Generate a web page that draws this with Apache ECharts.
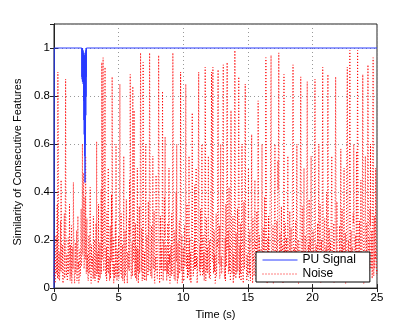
<!DOCTYPE html>
<html>
<head>
<meta charset="utf-8">
<script src="https://cdn.jsdelivr.net/npm/echarts@6/dist/echarts.min.js"></script>
<style>
  html, body { margin: 0; padding: 0; background: #fff; }
  #chart { width: 415px; height: 325px; }
</style>
</head>
<body>
<div id="chart"></div>
<script>
// y ticks shown with labels
const yTicks = [0, 0.2, 0.4, 0.6, 0.8, 1];

// PU signal (time in s, similarity)
const puTime = [0, 0.02, 2.15, 2.16, 2.17, 2.18, 2.19, 2.2, 2.21, 2.22, 2.23, 2.24, 2.25, 2.26, 2.27, 2.28,
  2.29, 2.3, 2.31, 2.32, 2.33, 2.34, 2.35, 2.36, 2.37, 2.38, 2.39, 2.4, 2.41, 2.42, 2.43, 2.44,
  2.45, 2.46, 2.47, 2.48, 2.49, 2.5, 2.51, 2.6, 25];
const puValue = [0, 1, 1, 0.88, 1, 0.87, 0.99, 0.86, 1, 0.87, 0.98, 0.86, 0.99, 0.85, 0.97, 0.86,
  0.96, 0.78, 0.98, 0.7, 0.95, 0.64, 0.97, 0.62, 0.93, 0.55, 0.96, 0.44, 0.92, 0.6, 0.98, 0.66,
  0.95, 0.72, 0.99, 0.8, 1, 0.88, 1, 1, 1];

// noise, one sample every 0.025 s from 0 to 25 s (one row = one second)
const noiseStep = 0.025;
const noiseValue = [
  0.05,0.09,0.12,0.02,0.03,0.14,0.22,0.06,0.08,0.19,0.35,0.04,0.90,0.62,0.04,0.10,0.15,0.03,0.06,0.16,0.28,0.07,0.45,0.21,0.07,0.12,0.18,0.05,0.02,0.08,0.11,0.24,0.31,0.04,0.09,0.40,0.87,0.13,0.05,0.07,
  0.14,0.03,0.04,0.11,0.21,0.06,0.08,0.15,0.35,0.09,0.03,0.18,0.12,0.05,0.26,0.02,0.06,0.13,0.17,0.08,0.44,0.20,0.09,0.04,0.02,0.10,0.19,0.06,0.07,0.14,0.24,0.03,0.05,0.17,0.30,0.08,0.11,0.02,0.04,0.12,
  0.16,0.05,0.07,0.20,0.33,0.09,0.12,0.27,0.60,0.14,0.25,0.36,0.48,0.08,0.10,0.31,0.38,0.12,0.55,0.18,0.06,0.24,0.29,0.07,0.14,0.04,0.03,0.15,0.22,0.06,0.09,0.19,0.42,0.11,0.05,0.02,0.18,0.09,0.08,0.13,
  0.13,0.04,0.30,0.08,0.04,0.16,0.20,0.03,0.09,0.12,0.27,0.05,0.61,0.22,0.06,0.10,0.15,0.02,0.35,0.07,0.03,0.14,0.19,0.04,0.08,0.18,0.41,0.06,0.94,0.55,0.12,0.70,0.96,0.30,0.07,0.11,0.23,0.48,0.92,0.15,
  0.05,0.10,0.17,0.03,0.32,0.07,0.08,0.19,0.50,0.06,0.11,0.13,0.03,0.09,0.26,0.04,0.14,0.21,0.39,0.11,0.88,0.37,0.06,0.15,0.21,0.02,0.10,0.08,0.04,0.17,0.28,0.05,0.60,0.12,0.09,0.03,0.16,0.07,0.05,0.14,
  0.22,0.04,0.07,0.33,0.85,0.28,0.13,0.06,0.31,0.10,0.04,0.15,0.18,0.03,0.09,0.20,0.55,0.08,0.02,0.13,0.24,0.05,0.12,0.18,0.37,0.09,0.06,0.02,0.15,0.11,0.08,0.16,0.29,0.07,0.45,0.22,0.89,0.52,0.10,0.04,
  0.06,0.13,0.19,0.05,0.84,0.40,0.11,0.36,0.74,0.20,0.05,0.09,0.27,0.04,0.13,0.17,0.03,0.11,0.50,0.07,0.16,0.02,0.08,0.14,0.34,0.06,0.21,0.45,0.98,0.60,0.07,0.12,0.25,0.03,0.12,0.38,0.94,0.25,0.04,0.09,
  0.15,0.03,0.09,0.18,0.60,0.27,0.03,0.08,0.22,0.12,0.11,0.05,0.36,0.16,0.07,0.42,0.98,0.58,0.14,0.06,0.05,0.10,0.26,0.04,0.18,0.21,0.55,0.09,0.08,0.14,0.32,0.03,0.02,0.11,0.13,0.07,0.47,0.19,0.10,0.05,
  0.04,0.11,0.23,0.46,0.97,0.65,0.12,0.02,0.06,0.15,0.30,0.08,0.17,0.04,0.09,0.33,0.82,0.40,0.03,0.12,0.20,0.07,0.38,0.21,0.63,0.09,0.07,0.18,0.15,0.03,0.11,0.06,0.27,0.13,0.05,0.24,0.50,0.10,0.14,0.02,
  0.08,0.16,0.18,0.05,0.31,0.12,0.06,0.52,0.98,0.70,0.13,0.07,0.04,0.15,0.24,0.03,0.10,0.19,0.40,0.11,0.60,0.08,0.02,0.14,0.19,0.04,0.09,0.22,0.28,0.06,0.12,0.35,0.90,0.48,0.07,0.13,0.22,0.02,0.05,0.09,
  0.17,0.06,0.03,0.13,0.26,0.09,0.11,0.44,0.85,0.38,0.08,0.18,0.35,0.04,0.14,0.10,0.05,0.23,0.55,0.07,0.21,0.03,0.09,0.15,0.02,0.11,0.30,0.40,0.73,0.20,0.12,0.05,0.06,0.14,0.19,0.08,0.43,0.12,0.08,0.26,
  0.50,0.09,0.13,0.02,0.04,0.16,0.27,0.58,0.90,0.34,0.07,0.12,0.18,0.05,0.33,0.08,0.10,0.27,0.60,0.14,0.05,0.19,0.22,0.06,0.15,0.03,0.08,0.47,0.92,0.66,0.03,0.10,0.29,0.07,0.12,0.17,0.06,0.21,0.55,0.11,
  0.09,0.04,0.20,0.12,0.04,0.18,0.37,0.62,0.90,0.45,0.11,0.70,0.92,0.30,0.06,0.15,0.24,0.07,0.14,0.02,0.03,0.11,0.31,0.05,0.08,0.20,0.17,0.56,0.91,0.38,0.10,0.13,0.26,0.04,0.05,0.22,0.60,0.09,0.13,0.06,
  0.07,0.15,0.28,0.61,0.93,0.40,0.12,0.08,0.04,0.13,0.21,0.03,0.35,0.10,0.09,0.57,0.94,0.50,0.16,0.24,0.06,0.12,0.42,0.07,0.11,0.18,0.03,0.36,0.74,0.29,0.19,0.06,0.08,0.16,0.30,0.02,0.14,0.09,0.05,0.48,
  0.99,0.55,0.10,0.04,0.23,0.13,0.06,0.17,0.33,0.07,0.15,0.52,0.88,0.41,0.04,0.11,0.18,0.06,0.27,0.03,0.09,0.32,0.60,0.22,0.12,0.05,0.02,0.15,0.36,0.09,0.08,0.46,0.85,0.39,0.20,0.12,0.07,0.03,0.14,0.10,
  0.05,0.21,0.50,0.18,0.11,0.06,0.24,0.09,0.03,0.14,0.17,0.35,0.64,0.27,0.08,0.02,0.29,0.11,0.13,0.05,0.06,0.23,0.45,0.16,0.19,0.08,0.04,0.13,0.32,0.04,0.10,0.42,0.78,0.50,0.07,0.15,0.22,0.03,0.12,0.08,
  0.16,0.07,0.04,0.31,0.60,0.24,0.09,0.12,0.25,0.05,0.13,0.19,0.38,0.10,0.06,0.58,0.96,0.63,0.11,0.04,0.02,0.14,0.21,0.09,0.30,0.03,0.08,0.16,0.17,0.35,0.44,0.66,0.97,0.52,0.05,0.11,0.14,0.06,0.26,0.02,
  0.07,0.12,0.19,0.38,0.60,0.20,0.12,0.06,0.03,0.15,0.28,0.09,0.15,0.53,0.41,0.64,0.98,0.44,0.06,0.13,0.23,0.04,0.10,0.17,0.34,0.08,0.04,0.11,0.18,0.02,0.09,0.47,0.89,0.36,0.13,0.21,0.27,0.07,0.05,0.14,
  0.21,0.03,0.08,0.33,0.55,0.16,0.14,0.07,0.04,0.12,0.32,0.05,0.11,0.19,0.25,0.08,0.06,0.14,0.39,0.62,0.93,0.51,0.09,0.04,0.17,0.10,0.03,0.15,0.28,0.06,0.12,0.37,0.60,0.24,0.07,0.13,0.20,0.02,0.10,0.09,
  0.05,0.14,0.26,0.59,0.88,0.42,0.13,0.04,0.08,0.18,0.34,0.10,0.16,0.27,0.50,0.06,0.04,0.12,0.22,0.03,0.11,0.20,0.29,0.54,0.86,0.46,0.07,0.15,0.18,0.08,0.37,0.05,0.09,0.21,0.14,0.30,0.55,0.11,0.03,0.07,
  0.12,0.05,0.24,0.09,0.06,0.17,0.31,0.56,0.87,0.49,0.10,0.13,0.18,0.03,0.04,0.14,0.27,0.07,0.15,0.33,0.60,0.28,0.08,0.11,0.35,0.06,0.02,0.16,0.20,0.04,0.11,0.61,0.92,0.44,0.16,0.08,0.05,0.19,0.29,0.12,
  0.09,0.03,0.17,0.11,0.40,0.22,0.06,0.60,0.89,0.47,0.13,0.06,0.25,0.10,0.03,0.15,0.19,0.04,0.32,0.36,0.55,0.25,0.08,0.12,0.14,0.07,0.27,0.02,0.05,0.18,0.21,0.53,0.88,0.41,0.10,0.05,0.36,0.13,0.07,0.09,
  0.15,0.08,0.04,0.13,0.26,0.05,0.11,0.34,0.58,0.29,0.08,0.16,0.33,0.04,0.18,0.10,0.06,0.31,0.50,0.22,0.12,0.07,0.23,0.02,0.03,0.19,0.42,0.68,0.92,0.55,0.09,0.12,0.20,0.06,0.14,0.63,0.99,0.58,0.07,0.15,
  0.24,0.04,0.10,0.17,0.05,0.12,0.31,0.27,0.60,0.35,0.13,0.06,0.07,0.14,0.22,0.09,0.38,0.57,0.04,0.66,0.99,0.48,0.16,0.03,0.09,0.20,0.28,0.08,0.12,0.11,0.45,0.23,0.06,0.05,0.19,0.50,0.89,0.43,0.11,0.02,
  0.03,0.13,0.20,0.35,0.55,0.18,0.09,0.05,0.27,0.11,0.14,0.58,0.93,0.44,0.06,0.21,0.17,0.07,0.33,0.26,0.60,0.09,0.08,0.16,0.24,0.04,0.12,0.62,0.96,0.47,0.05,0.19,0.30,0.08,0.15,0.12,0.50,0.24,0.10,0.06,
  0.08
];

const FONT = '"Liberation Sans", Arial, sans-serif';

function draw(id, option) {
  let chart = echarts.init(document.getElementById(id), null, { renderer: 'canvas' });
  chart.setOption(option);
}

const puData = puTime.map((t, i) => [t, puValue[i]]);
const noiseData = noiseValue.map((v, i) => [i * noiseStep, v]);

const gridLine = { show: true, lineStyle: { color: '#999', type: [1, 3], width: 1 } };
const tickIn = { show: true, inside: true, length: 4, lineStyle: { color: '#222' } };

draw('chart', {
  animation: false,
  textStyle: { fontFamily: FONT },
  grid: { left: 54, top: 24, right: 38, bottom: 36.5, show: true, borderColor: '#222', borderWidth: 1 },
  legend: {
    data: ['PU Signal', 'Noise'],
    orient: 'vertical',
    left: 256,
    top: 252,
    padding: [2, 14, 2, 6],
    itemGap: 2,
    itemWidth: 35,
    itemHeight: 12,
    backgroundColor: '#fff',
    borderColor: '#000',
    borderWidth: 1,
    itemStyle: { opacity: 0 },
    lineStyle: { width: 1 },
    textStyle: { fontFamily: FONT, fontSize: 12, color: '#000' }
  },
  xAxis: [
    {
      type: 'value', min: 0, max: 25, interval: 5,
      name: 'Time (s)', nameLocation: 'middle', nameGap: 20,
      nameTextStyle: { fontFamily: FONT, fontSize: 11, color: '#000' },
      axisLine: { show: true, lineStyle: { color: '#222' } },
      axisTick: tickIn,
      axisLabel: { fontFamily: FONT, fontSize: 11.5, color: '#000', margin: 4 },
      splitLine: gridLine
    },
    {
      type: 'value', min: 0, max: 25, interval: 5, position: 'top',
      axisLine: { show: true, lineStyle: { color: '#222' } },
      axisTick: tickIn, axisLabel: { show: false }, splitLine: { show: false }
    }
  ],
  yAxis: [
    {
      type: 'value', min: 0, max: 1.1, interval: 0.2,
      name: 'Similarity of Consecutive Features', nameLocation: 'middle', nameGap: 27,
      nameTextStyle: { fontFamily: FONT, fontSize: 11, color: '#000', padding: [0, 12, 0, 0] },
      axisLine: { show: true, lineStyle: { color: '#222' } },
      axisTick: tickIn,
      axisLabel: {
        fontFamily: FONT, fontSize: 11.5, color: '#000', margin: 4, showMaxLabel: false,
        formatter: v => (yTicks.indexOf(+v.toFixed(1)) >= 0 && v <= 1 ? String(+v.toFixed(1)) : '')
      },
      splitLine: gridLine
    },
    {
      type: 'value', min: 0, max: 1.1, interval: 0.2, position: 'right',
      axisLine: { show: true, lineStyle: { color: '#222' } },
      axisTick: tickIn, axisLabel: { show: false }, splitLine: { show: false }
    }
  ],
  series: [
    {
      name: 'Noise', type: 'line', data: noiseData, symbol: 'none',
      lineStyle: { color: '#ff0000', width: 1, type: [1, 2] },
      itemStyle: { color: '#ff0000' },
      z: 2
    },
    {
      name: 'PU Signal', type: 'line', data: puData, symbol: 'none',
      lineStyle: { color: '#2a3cff', width: 1 },
      itemStyle: { color: '#2a3cff' },
      z: 3
    }
  ]
});
</script>
</body>
</html>
